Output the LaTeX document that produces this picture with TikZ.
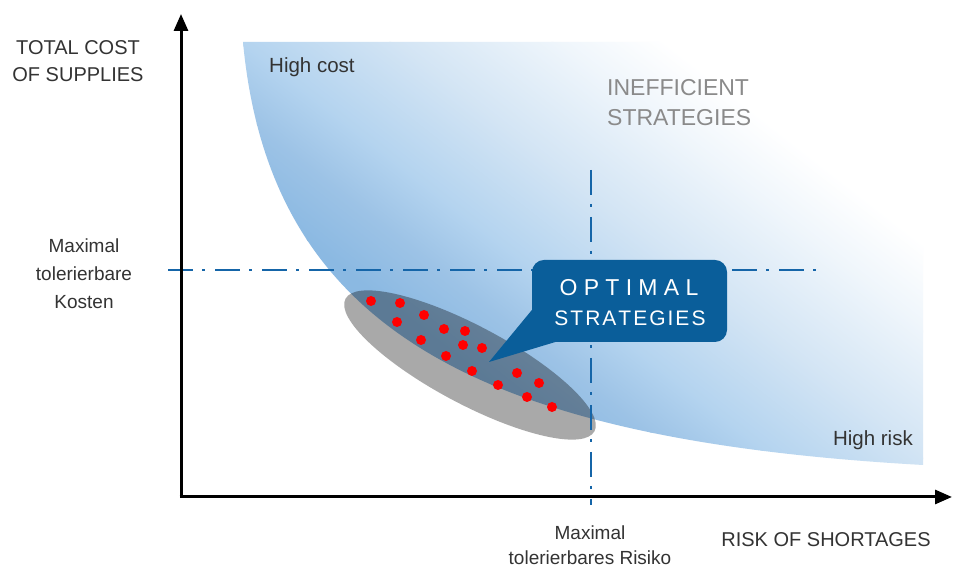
\documentclass[tikz,border=0pt]{standalone}
\usepackage{fontspec}
\setmainfont{Liberation Sans}
\usetikzlibrary{arrows.meta}
\definecolor{sA}{HTML}{8BB9E2}
\definecolor{sB}{HTML}{9DC3E6}
\definecolor{sC}{HTML}{B3D3EF}
\definecolor{sD}{HTML}{D2E4F4}
\definecolor{sE}{HTML}{EEF5FB}
\definecolor{sF}{HTML}{FFFFFF}
\definecolor{ellgray}{HTML}{A9A9A9}
\definecolor{dashblue}{HTML}{1565A8}
\definecolor{boxblue}{HTML}{0A5E9A}
\definecolor{txtdark}{HTML}{333333}
\definecolor{txtgray}{HTML}{8A8A8A}
\begin{document}
\begin{tikzpicture}[x=1pt,y=1pt,
  axisline/.style={line width=3pt,draw=black,-{Triangle[length=17pt,width=14pt]}},
  dashdotline/.style={line width=2.6pt,draw=dashblue,dash pattern=on 25pt off 9pt on 3pt off 10pt},
  lbl/.style={text=txtdark,inner sep=0pt,align=center},
  reddot/.style={circle,fill=red,minimum size=10pt,inner sep=0pt},
  boxtxt/.style={text=white,inner sep=0pt}]
\useasboundingbox (0,0) rectangle (954,569);
\fill[white] (0,0) rectangle (954,569);

% shaded region of strategies
\begin{scope}
\clip (243,527) -- (923,527) -- (923,104) .. controls (480,129) and (270,239) .. (243,527) -- cycle;
\begin{scope}[transform canvas={rotate=52}]
\fill[sA] (-1500,-1500) rectangle (449,1500);
\shade[left color=sA,right color=sB] (448,-1500) rectangle (509,1500);
\shade[left color=sB,right color=sC] (508,-1500) rectangle (563,1500);
\shade[left color=sC,right color=sD] (562,-1500) rectangle (656,1500);
\shade[left color=sD,right color=sE] (655,-1500) rectangle (756,1500);
\shade[left color=sE,right color=sF] (755,-1500) rectangle (825,1500);
\end{scope}
\end{scope}

% grey ellipse
\begin{scope}[blend mode=multiply]
\fill[ellgray,rotate around={-28:(470,204)}] (470,204) ellipse (141 and 39);
\end{scope}

% dash-dot limits
\coordinate (hl) at (168,299);
\coordinate (hr) at (822,299);
\coordinate (vt) at (591,399);
\coordinate (vb) at (591,64);
\draw[dashdotline] (hl) -- (hr);
\draw[dashdotline] (vt) -- (vb);

% axes
\coordinate (o) at (181,72);
\coordinate (ytip) at (181,555);
\coordinate (xtip) at (952,72);
\draw[axisline] (o) -- (ytip);
\draw[axisline] (179.5,72) -- (xtip);

% callout
\fill[boxblue,rounded corners=12pt] (532,309) rectangle (727,227);
\fill[boxblue] (562,229) -- (489,207) -- (536,264) -- cycle;
\node[boxtxt,font=\fontsize{23}{23}\selectfont] (opt) at (629,281) {O\kern6.3pt P\kern6.3pt T\kern6.3pt I\kern6.3pt M\kern6.3pt A\kern6.3pt L};
\node[boxtxt,font=\fontsize{21}{21}\selectfont] (strat) at (630,251) {S\kern2pt T\kern2pt R\kern2pt A\kern2pt T\kern2pt E\kern2pt G\kern2pt I\kern2pt E\kern2pt S};

% red dots
\foreach \px/\py [count=\i] in {371/268,400/266,397/247,424/254,444/240,465/238,421/229,463/224,482/221,446/213,472/198,517/196,498/184,539/186,527/172,552/162}
  \node[reddot] (d\i) at (\px,\py) {};

% labels
\node[lbl,font=\fontsize{20}{27}\selectfont] (ylab) at (78,507.5) {TOTAL COST\\OF SUPPLIES};
\node[lbl,font=\fontsize{20.5}{20}\selectfont,anchor=west] (hcost) at (269,502) {High cost};
\node[lbl,text=txtgray,align=left,font=\fontsize{23}{30}\selectfont,anchor=west] (ineff) at (607,466) {INEFFICIENT\\STRATEGIES};
\node[lbl,font=\fontsize{19}{28}\selectfont] (kosten) at (84,295) {Maximal\\tolerierbare\\Kosten};
\node[lbl,font=\fontsize{19}{25}\selectfont] (risiko) at (590,24) {Maximal\\tolerierbares Risiko};
\node[lbl,font=\fontsize{20}{20}\selectfont] (xlab) at (826,29) {RISK OF SHORTAGES};
\node[lbl,font=\fontsize{20.5}{20}\selectfont,anchor=east] (hrisk) at (913,129) {High risk};
\end{tikzpicture}
\end{document}
